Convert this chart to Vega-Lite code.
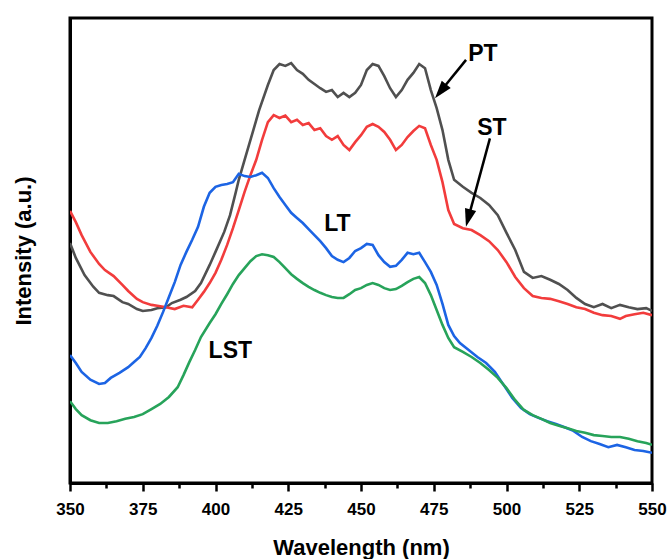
{
  "$schema": "https://vega.github.io/schema/vega-lite/v6.json",
  "width": 582,
  "height": 465,
  "autosize": {"type": "none"},
  "padding": {"left": 70, "top": 18, "right": 15, "bottom": 76},
  "background": "white",
  "config": {
    "view": {"stroke": "black", "strokeWidth": 3},
    "font": "Liberation Sans",
    "axis": {
      "grid": false,
      "domainColor": "black",
      "domainWidth": 3,
      "tickColor": "black",
      "tickWidth": 2.5,
      "labelFont": "Liberation Sans",
      "labelFontWeight": "bold",
      "labelFontSize": 17,
      "labelColor": "black",
      "titleFont": "Liberation Sans",
      "titleFontWeight": "bold",
      "titleFontSize": 22,
      "titleColor": "black"
    }
  },
  "encoding": {
    "x": {
      "field": "x",
      "type": "quantitative",
      "scale": {"domain": [350, 550], "nice": false, "zero": false},
      "axis": {
        "title": "Wavelength (nm)",
        "values": [350, 362.5, 375, 387.5, 400, 412.5, 425, 437.5, 450, 462.5, 475, 487.5, 500, 512.5, 525, 537.5, 550],
        "labelExpr": "datum.value % 25 === 0 ? datum.label : ''",
        "tickSize": {"condition": {"test": "datum.value % 25 === 0", "value": 8}, "value": 5},
        "labelPadding": 10,
        "labelFlush": false,
        "labelOverlap": false,
        "titlePadding": 20
      }
    },
    "y": {
      "field": "y",
      "type": "quantitative",
      "scale": {"domain": [0, 100], "nice": false},
      "axis": {"title": "Intensity (a.u.)", "labels": false, "ticks": false, "titlePadding": 35}
    }
  },
  "layer": [
    {
      "data": {"values": [
        {"x":350,"y":51.6},{"x":352,"y":48.4},{"x":355,"y":44.7},{"x":358,"y":42.2},{"x":360,"y":40.9},{"x":363,"y":40.4},{"x":365,"y":40.2},{"x":368,"y":38.9},{"x":370,"y":38.5},{"x":373,"y":37.4},{"x":375,"y":37.0},{"x":378,"y":37.2},{"x":380,"y":37.6},{"x":383,"y":37.8},{"x":385,"y":38.7},{"x":388,"y":39.4},{"x":390,"y":40.0},{"x":393,"y":41.3},{"x":395,"y":43.0},{"x":398,"y":46.9},{"x":400,"y":49.7},{"x":403,"y":54.0},{"x":405,"y":57.6},{"x":407,"y":62.6},{"x":408,"y":65.2},{"x":410,"y":69.5},{"x":413,"y":75.9},{"x":415,"y":80.2},{"x":418,"y":85.6},{"x":420,"y":88.8},{"x":422,"y":90.1},{"x":424,"y":89.7},{"x":426,"y":90.3},{"x":428,"y":88.8},{"x":430,"y":88.0},{"x":432,"y":86.7},{"x":434,"y":85.8},{"x":436,"y":84.9},{"x":438,"y":84.1},{"x":440,"y":84.5},{"x":442,"y":83.0},{"x":444,"y":83.9},{"x":446,"y":83.0},{"x":448,"y":83.9},{"x":450,"y":85.6},{"x":452,"y":88.8},{"x":454,"y":90.1},{"x":456,"y":89.7},{"x":458,"y":87.5},{"x":460,"y":84.9},{"x":462,"y":83.0},{"x":464,"y":84.5},{"x":466,"y":86.7},{"x":468,"y":88.2},{"x":470,"y":90.1},{"x":472,"y":89.2},{"x":474,"y":84.5},{"x":476,"y":80.6},{"x":478,"y":75.9},{"x":480,"y":69.5},{"x":482,"y":65.2},{"x":485,"y":63.7},{"x":488,"y":62.4},{"x":491,"y":61.3},{"x":494,"y":59.8},{"x":497,"y":57.6},{"x":500,"y":53.8},{"x":503,"y":50.1},{"x":506,"y":45.4},{"x":509,"y":44.1},{"x":512,"y":44.5},{"x":515,"y":43.7},{"x":518,"y":42.8},{"x":521,"y":41.5},{"x":524,"y":39.8},{"x":527,"y":38.5},{"x":530,"y":37.8},{"x":533,"y":38.5},{"x":536,"y":37.6},{"x":539,"y":38.3},{"x":542,"y":37.8},{"x":545,"y":37.4},{"x":548,"y":37.6},{"x":550,"y":37.0}
      ]},
      "mark": {"type": "line", "color": "#505050", "strokeWidth": 2.6, "clip": true}
    },
    {
      "data": {"values": [
        {"x":350,"y":58.5},{"x":352,"y":56.1},{"x":354,"y":53.3},{"x":357,"y":49.7},{"x":360,"y":47.1},{"x":362,"y":45.8},{"x":365,"y":44.5},{"x":368,"y":42.6},{"x":370,"y":41.3},{"x":373,"y":39.6},{"x":375,"y":38.9},{"x":378,"y":38.3},{"x":380,"y":38.1},{"x":383,"y":37.8},{"x":386,"y":37.4},{"x":389,"y":38.1},{"x":392,"y":37.8},{"x":394,"y":39.4},{"x":396,"y":41.1},{"x":398,"y":43.0},{"x":400,"y":45.2},{"x":402,"y":48.0},{"x":404,"y":51.2},{"x":406,"y":54.8},{"x":408,"y":58.7},{"x":410,"y":62.6},{"x":412,"y":66.2},{"x":414,"y":69.5},{"x":416,"y":73.8},{"x":418,"y":77.6},{"x":420,"y":79.1},{"x":422,"y":78.5},{"x":424,"y":79.0},{"x":426,"y":77.6},{"x":428,"y":78.1},{"x":430,"y":77.0},{"x":432,"y":77.4},{"x":434,"y":75.9},{"x":436,"y":76.3},{"x":438,"y":74.6},{"x":440,"y":73.8},{"x":442,"y":74.6},{"x":444,"y":72.7},{"x":446,"y":71.6},{"x":448,"y":73.3},{"x":450,"y":74.8},{"x":452,"y":76.6},{"x":454,"y":77.2},{"x":456,"y":76.6},{"x":458,"y":75.5},{"x":460,"y":73.8},{"x":462,"y":71.6},{"x":464,"y":72.7},{"x":466,"y":74.4},{"x":468,"y":75.7},{"x":470,"y":76.8},{"x":472,"y":76.3},{"x":474,"y":72.7},{"x":476,"y":69.5},{"x":478,"y":64.7},{"x":480,"y":58.7},{"x":482,"y":55.7},{"x":485,"y":54.8},{"x":488,"y":54.4},{"x":491,"y":53.3},{"x":494,"y":52.0},{"x":497,"y":50.1},{"x":500,"y":47.5},{"x":503,"y":44.3},{"x":506,"y":41.9},{"x":509,"y":40.2},{"x":512,"y":39.8},{"x":515,"y":39.6},{"x":518,"y":39.1},{"x":521,"y":38.5},{"x":524,"y":37.8},{"x":527,"y":37.4},{"x":530,"y":36.6},{"x":533,"y":36.1},{"x":536,"y":35.9},{"x":539,"y":35.3},{"x":541,"y":35.9},{"x":544,"y":36.3},{"x":547,"y":36.6},{"x":550,"y":36.1}
      ]},
      "mark": {"type": "line", "color": "#f23c3c", "strokeWidth": 2.6, "clip": true}
    },
    {
      "data": {"values": [
        {"x":350,"y":27.5},{"x":352,"y":25.8},{"x":354,"y":23.9},{"x":357,"y":22.2},{"x":360,"y":21.3},{"x":362,"y":21.5},{"x":364,"y":22.6},{"x":367,"y":23.7},{"x":370,"y":24.9},{"x":372,"y":26.0},{"x":374,"y":27.1},{"x":376,"y":29.0},{"x":378,"y":31.2},{"x":380,"y":33.8},{"x":382,"y":36.8},{"x":384,"y":40.0},{"x":386,"y":43.2},{"x":388,"y":46.9},{"x":390,"y":49.7},{"x":392,"y":52.3},{"x":394,"y":55.1},{"x":396,"y":59.4},{"x":398,"y":62.4},{"x":400,"y":63.7},{"x":402,"y":64.1},{"x":404,"y":64.3},{"x":406,"y":64.7},{"x":408,"y":66.5},{"x":410,"y":66.0},{"x":412,"y":65.8},{"x":414,"y":66.2},{"x":416,"y":66.7},{"x":418,"y":65.6},{"x":420,"y":63.4},{"x":422,"y":61.5},{"x":424,"y":59.8},{"x":426,"y":58.1},{"x":428,"y":57.0},{"x":430,"y":55.9},{"x":432,"y":54.6},{"x":434,"y":53.3},{"x":436,"y":52.0},{"x":438,"y":50.5},{"x":440,"y":48.8},{"x":442,"y":48.0},{"x":444,"y":47.5},{"x":446,"y":48.4},{"x":448,"y":49.9},{"x":450,"y":50.5},{"x":452,"y":51.4},{"x":454,"y":51.2},{"x":456,"y":49.0},{"x":458,"y":47.5},{"x":460,"y":46.5},{"x":462,"y":46.7},{"x":464,"y":48.0},{"x":466,"y":49.5},{"x":468,"y":49.2},{"x":470,"y":49.5},{"x":472,"y":47.5},{"x":474,"y":45.4},{"x":476,"y":42.6},{"x":478,"y":38.5},{"x":480,"y":34.0},{"x":482,"y":31.6},{"x":484,"y":30.1},{"x":487,"y":28.6},{"x":490,"y":27.1},{"x":493,"y":25.8},{"x":496,"y":23.9},{"x":499,"y":21.1},{"x":502,"y":18.3},{"x":505,"y":16.1},{"x":508,"y":14.8},{"x":511,"y":14.0},{"x":514,"y":13.3},{"x":517,"y":12.7},{"x":520,"y":12.0},{"x":523,"y":11.2},{"x":526,"y":9.9},{"x":529,"y":9.0},{"x":532,"y":8.4},{"x":535,"y":7.7},{"x":538,"y":8.2},{"x":541,"y":7.7},{"x":544,"y":7.1},{"x":547,"y":6.9},{"x":550,"y":6.5}
      ]},
      "mark": {"type": "line", "color": "#1c64e4", "strokeWidth": 2.6, "clip": true}
    },
    {
      "data": {"values": [
        {"x":350,"y":17.6},{"x":352,"y":15.9},{"x":354,"y":14.6},{"x":357,"y":13.5},{"x":360,"y":12.9},{"x":363,"y":12.9},{"x":366,"y":13.3},{"x":369,"y":13.8},{"x":372,"y":14.2},{"x":375,"y":14.8},{"x":378,"y":15.9},{"x":381,"y":17.0},{"x":384,"y":18.5},{"x":387,"y":20.6},{"x":389,"y":23.2},{"x":391,"y":26.0},{"x":393,"y":28.6},{"x":395,"y":31.4},{"x":398,"y":34.4},{"x":400,"y":36.3},{"x":402,"y":38.5},{"x":404,"y":40.6},{"x":406,"y":42.8},{"x":408,"y":44.7},{"x":410,"y":46.2},{"x":412,"y":47.7},{"x":414,"y":48.8},{"x":416,"y":49.2},{"x":418,"y":49.0},{"x":420,"y":48.6},{"x":422,"y":47.5},{"x":424,"y":46.2},{"x":426,"y":44.9},{"x":428,"y":43.9},{"x":430,"y":43.0},{"x":432,"y":42.2},{"x":434,"y":41.5},{"x":436,"y":40.9},{"x":438,"y":40.4},{"x":440,"y":40.0},{"x":442,"y":39.8},{"x":444,"y":39.8},{"x":446,"y":40.6},{"x":448,"y":41.5},{"x":450,"y":41.9},{"x":452,"y":42.6},{"x":454,"y":43.0},{"x":456,"y":42.6},{"x":458,"y":41.9},{"x":460,"y":41.5},{"x":462,"y":41.7},{"x":464,"y":42.4},{"x":466,"y":43.2},{"x":468,"y":43.9},{"x":470,"y":44.3},{"x":472,"y":43.0},{"x":474,"y":40.4},{"x":476,"y":37.2},{"x":478,"y":34.0},{"x":480,"y":31.2},{"x":482,"y":29.2},{"x":485,"y":28.2},{"x":488,"y":27.1},{"x":491,"y":25.8},{"x":494,"y":24.3},{"x":497,"y":22.6},{"x":500,"y":20.4},{"x":503,"y":17.8},{"x":506,"y":15.7},{"x":509,"y":14.6},{"x":512,"y":13.8},{"x":515,"y":12.9},{"x":518,"y":12.3},{"x":521,"y":11.8},{"x":524,"y":11.2},{"x":527,"y":10.8},{"x":530,"y":10.3},{"x":533,"y":10.1},{"x":536,"y":9.9},{"x":539,"y":9.9},{"x":542,"y":9.5},{"x":545,"y":9.0},{"x":548,"y":8.6},{"x":550,"y":8.2}
      ]},
      "mark": {"type": "line", "color": "#27a35a", "strokeWidth": 2.6, "clip": true}
    },
    {
      "data": {"values": [
        {"x": 486.1, "y": 91.0, "x2": 477.7, "y2": 84.5},
        {"x": 494.3, "y": 74.1, "x2": 487.0, "y2": 57.3}
      ]},
      "mark": {"type": "rule", "color": "black", "strokeWidth": 2.5},
      "encoding": {"x2": {"field": "x2"}, "y2": {"field": "y2"}}
    },
    {
      "data": {"values": [{"x": 477.7, "y": 84.5}]},
      "mark": {"type": "point", "shape": "M0,1L-0.55,-0.7L0.55,-0.7Z", "filled": true, "color": "black", "opacity": 1, "size": 441, "angle": 39}
    },
    {
      "data": {"values": [{"x": 487.0, "y": 57.3}]},
      "mark": {"type": "point", "shape": "M0,1L-0.55,-0.7L0.55,-0.7Z", "filled": true, "color": "black", "opacity": 1, "size": 441, "angle": 15}
    },
    {
      "data": {"values": [
        {"x": 491.9, "y": 92.3, "label": "PT"},
        {"x": 495.0, "y": 76.3, "label": "ST"},
        {"x": 441.9, "y": 55.8, "label": "LT"},
        {"x": 405.1, "y": 28.4, "label": "LST"}
      ]},
      "mark": {"type": "text", "font": "Liberation Sans", "fontWeight": "bold", "fontSize": 23, "color": "black", "align": "center", "baseline": "middle"},
      "encoding": {"text": {"field": "label"}}
    }
  ]
}
